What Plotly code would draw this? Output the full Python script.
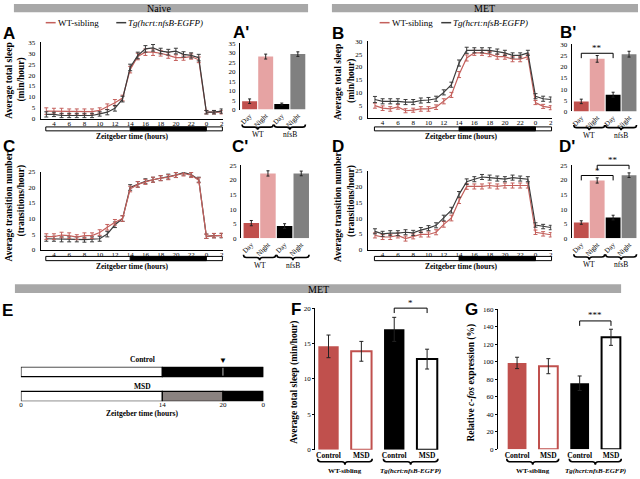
import plotly.graph_objects as go

W, H = 640, 479
SERIF = "Liberation Serif, Times New Roman, serif"
SANS = "Liberation Sans, Arial, sans-serif"

WT_LINE = "#c4605c"
TG_LINE = "#3c3c3c"
WT_DAY = "#c0504d"
WT_NIGHT = "#e6a3a3"
TG_DAY = "#000000"
TG_NIGHT = "#808080"
RED = "#c0504d"
HEADER = "#a8a8a8"
MSD_GRAY = "#8a8280"

# ---------------- data ----------------
hours = list(range(3, 27))
hour_tickvals = [4, 6, 8, 10, 12, 14, 16, 18, 20, 22, 24, 26]
hour_ticktext = ["4", "6", "8", "10", "12", "14", "16", "18", "20", "22", "0", "2"]
lights_off, lights_on = 14, 24

# A: naive total sleep
A_wt = [3.5, 3.5, 3.5, 3.3, 3.3, 3.3, 3.3, 3.8, 5.5, 7.3, 9.5, 22.5, 28.5, 30.5, 30.5, 30.0, 29.0, 28.0, 28.0, 28.5, 27.0, 3.0, 3.0, 3.0]
A_tg = [2.0, 2.0, 1.5, 1.5, 1.5, 1.5, 1.5, 2.2, 3.0, 4.8, 9.0, 23.5, 29.0, 32.0, 32.5, 31.0, 30.5, 31.0, 29.5, 29.0, 28.0, 3.0, 3.0, 3.5]
A_wt_err = [1.5, 1.3, 1.3, 1.2, 1.2, 1.2, 1.2, 1.2, 1.3, 1.5, 1.3, 1.5, 1.5, 1.5, 1.5, 1.3, 1.3, 1.3, 1.2, 1.2, 1.3, 0.8, 0.8, 0.8]
A_tg_err = [1.2, 1.0, 1.0, 1.0, 1.0, 1.0, 1.0, 1.0, 1.2, 1.3, 1.3, 1.5, 1.5, 1.5, 1.5, 1.3, 1.3, 1.3, 1.2, 1.2, 1.5, 0.8, 0.8, 1.0]

# B: MET total sleep
B_wt = [4.8, 3.8, 3.5, 4.3, 2.8, 3.0, 3.5, 3.5, 4.2, 6.5, 9.0, 17.0, 23.5, 25.5, 25.5, 25.0, 24.0, 24.0, 23.0, 23.0, 24.0, 6.0, 4.5, 4.0]
B_tg = [7.2, 6.5, 6.5, 6.5, 6.2, 6.2, 6.8, 7.0, 7.5, 10.0, 13.0, 21.5, 26.5, 26.5, 26.5, 26.5, 26.0, 25.5, 24.5, 24.5, 25.5, 8.5, 7.5, 7.2]
B_wt_err = [1.0, 0.9, 0.9, 0.9, 0.8, 0.8, 0.9, 0.9, 0.9, 1.0, 1.0, 1.2, 1.2, 1.0, 1.0, 1.0, 1.0, 1.0, 1.0, 1.0, 1.0, 0.8, 0.8, 0.8]
B_tg_err = [1.2, 1.0, 1.0, 1.0, 1.0, 1.0, 1.0, 1.0, 1.0, 1.0, 1.0, 1.2, 1.2, 1.0, 1.0, 1.0, 1.0, 1.0, 1.0, 1.0, 1.0, 1.0, 1.0, 1.0]

# C: naive transitions
C_wt = [4.2, 4.2, 4.7, 4.5, 4.0, 4.5, 4.5, 5.5, 7.2, 8.8, 10.0, 19.5, 21.0, 21.8, 22.5, 23.0, 23.3, 24.0, 24.5, 24.0, 22.3, 4.3, 4.5, 4.6]
C_tg = [3.5, 3.5, 3.3, 3.3, 3.3, 3.2, 3.3, 3.5, 5.0, 8.0, 10.0, 20.0, 21.0, 22.0, 22.5, 23.0, 23.5, 24.0, 24.8, 24.2, 22.5, 4.3, 4.5, 4.5]
C_wt_err = [0.9, 0.9, 0.9, 0.9, 0.8, 0.9, 0.9, 0.9, 0.9, 0.9, 0.9, 0.9, 0.9, 0.8, 0.8, 0.8, 0.8, 0.8, 0.8, 0.8, 0.8, 0.7, 0.7, 0.7]
C_tg_err = [0.8, 0.8, 0.8, 0.8, 0.8, 0.8, 0.8, 0.8, 0.9, 0.9, 0.9, 0.9, 0.9, 0.8, 0.8, 0.8, 0.8, 0.8, 0.8, 0.8, 0.8, 0.7, 0.7, 0.7]

# D: MET transitions
D_wt = [4.5, 4.0, 4.0, 4.5, 3.5, 4.2, 4.8, 4.8, 5.5, 8.0, 10.0, 15.5, 20.0, 20.0, 20.0, 20.3, 20.0, 20.3, 20.3, 20.3, 20.3, 5.5, 5.0, 4.7]
D_tg = [5.8, 5.0, 5.2, 5.2, 5.5, 5.3, 6.2, 6.8, 7.7, 10.0, 12.5, 17.5, 21.5, 22.3, 23.0, 22.8, 22.5, 22.3, 22.8, 22.5, 22.3, 7.8, 7.3, 7.0]
D_wt_err = [0.8, 0.8, 0.8, 0.8, 0.8, 0.8, 0.8, 0.8, 0.8, 0.9, 0.9, 0.9, 0.9, 0.8, 0.8, 0.8, 0.8, 0.8, 0.8, 0.8, 0.8, 0.7, 0.7, 0.7]
D_tg_err = [0.8, 0.8, 0.8, 0.8, 0.8, 0.8, 0.8, 0.8, 0.8, 0.9, 0.9, 0.9, 0.9, 0.8, 0.8, 0.8, 0.8, 0.8, 0.8, 0.8, 0.8, 0.7, 0.7, 0.7]

# day/night bar summaries (WT Day, WT Night, nfsB Day, nfsB Night)
bar_cats = ["Day", "Night", "Day", "Night"]
bar_groups = ["WT", "nfsB"]
Ap_vals = [4.4, 28.0, 2.9, 29.3]
Ap_err = [1.2, 1.3, 0.5, 1.2]
Bp_vals = [4.5, 23.5, 7.5, 25.6]
Bp_err = [1.0, 1.5, 1.1, 1.3]
Cp_vals = [5.2, 22.2, 4.2, 22.2]
Cp_err = [0.9, 0.9, 0.8, 0.8]
Dp_vals = [5.4, 19.8, 7.1, 21.6]
Dp_err = [0.6, 0.9, 0.8, 0.8]
bar_colors = [WT_DAY, WT_NIGHT, TG_DAY, TG_NIGHT]

# significance: (left index, right index, label)
Bp_sig = [(0, 2, "**")]
Dp_sig = [(0, 2, "*"), (1, 3, "**")]

# E: sleep deprivation protocol
E_rows = ["Control", "MSD"]
E_seg_row = [1, 1, 0, 0, 0]
E_seg_start = [0, 14, 0, 14, 20]
E_seg_end = [14, 24, 14, 20, 24]
E_seg_color = ["white", "black", "white", MSD_GRAY, "black"]
E_tickvals = [0, 14, 20, 24]
E_ticktext = ["0", "14", "20", "0"]
E_sample_time = 20

# F / G
FG_cats = ["Control", "MSD", "Control", "MSD"]
FG_groups = ["WT-sibling", "<i>Tg(hcrt:nfsB-EGFP)</i>"]
F_vals = [14.6, 13.9, 17.0, 12.8]
F_err = [1.6, 1.4, 1.7, 1.4]
G_vals = [98.5, 94.8, 75.3, 127.8]
G_err = [6.5, 8.6, 8.3, 9.2]
FG_fill = [RED, "white", "black", "white"]
FG_line = [RED, RED, "black", "black"]
FG_lw = [0, 2, 0, 2]
F_sig = [(2, 3, "*")]
G_sig = [(2, 3, "***")]

# ---------------- layout geometry (pixels) ----------------
P = {
    "A":  dict(i=1, xd=(39, 222), yd=(39, 116.7), xr=[2.27, 26.13], yr=[0, 35]),
    "Ap": dict(i=2, xd=(239.3, 305.8), yd=(40, 107.3), xr=[-0.61, 3.5], yr=[0, 35]),
    "B":  dict(i=3, xd=(368, 553), yd=(38, 115.8), xr=[2.05, 26.1], yr=[0, 30]),
    "Bp": dict(i=4, xd=(573.3, 639), yd=(41, 109.3), xr=[-0.6, 3.5], yr=[0, 30]),
    "C":  dict(i=5, xd=(39, 222), yd=(170.8, 249.8), xr=[2.27, 26.13], yr=[0, 25]),
    "Cp": dict(i=6, xd=(240.5, 309.5), yd=(164, 238.3), xr=[-0.62, 3.5], yr=[0, 25]),
    "D":  dict(i=7, xd=(368, 553), yd=(169.5, 249.8), xr=[2.05, 26.1], yr=[0, 25]),
    "Dp": dict(i=8, xd=(573.3, 639), yd=(164, 238.3), xr=[-0.6, 3.5], yr=[0, 25]),
    "E":  dict(i=9, xd=(19, 263), yd=(369, 404), xr=[0, 24], yr=[-0.2, 1.2]),
    "F":  dict(i=10, xd=(315, 441), yd=(309.3, 453.3), xr=[-0.41, 3.4], yr=[0, 20]),
    "G":  dict(i=11, xd=(499, 625.4), yd=(310.3, 452.7), xr=[-0.613, 3.4], yr=[0, 160]),
}


def fx(px):
    return px / W


def fy(py):
    return 1 - py / H


def xpix(p, v):
    d = P[p]
    return d["xd"][0] + (v - d["xr"][0]) / (d["xr"][1] - d["xr"][0]) * (d["xd"][1] - d["xd"][0])


def ypix(p, v):
    d = P[p]
    return d["yd"][1] - (v - d["yr"][0]) / (d["yr"][1] - d["yr"][0]) * (d["yd"][1] - d["yd"][0])


def names(p):
    i = P[p]["i"]
    return ("x" if i == 1 else f"x{i}"), ("y" if i == 1 else f"y{i}")


fig = go.Figure()
layout = dict(width=W, height=H, margin=dict(l=0, r=0, t=0, b=0),
              paper_bgcolor="white", plot_bgcolor="white", showlegend=False)
shapes = []
anns = []


def ann(x, y, text, size=8, family=SERIF, angle=0, xanchor="center", color="black"):
    anns.append(dict(x=fx(x), y=fy(y), xref="paper", yref="paper", text=text, showarrow=False,
                     font=dict(family=family, size=size, color=color), textangle=angle,
                     xanchor=xanchor, yanchor="middle", borderpad=0))


def set_axes(p, xkw, ykw):
    d = P[p]
    xn, yn = names(p)
    xkey = "xaxis" if d["i"] == 1 else f"xaxis{d['i']}"
    ykey = "yaxis" if d["i"] == 1 else f"yaxis{d['i']}"
    base = dict(showgrid=False, zeroline=False, fixedrange=True)
    layout[xkey] = dict(base, domain=[fx(d["xd"][0]), fx(d["xd"][1])], range=d["xr"], anchor=yn, **xkw)
    layout[ykey] = dict(base, domain=[fy(d["yd"][1]), fy(d["yd"][0])], range=d["yr"], anchor=xn, **ykw)


tickf = dict(family=SERIF, size=7, color="black")


def line_panel(p, wt, wt_err, tg, tg_err, top, bar_y, wt_on_top=False):
    xn, yn = names(p)
    tr_wt = go.Scatter(x=hours, y=wt, mode="lines", line=dict(color=WT_LINE, width=1.2),
                       error_y=dict(type="data", array=wt_err, color=WT_LINE, thickness=1, width=2),
                       xaxis=xn, yaxis=yn, hoverinfo="skip")
    tr_tg = go.Scatter(x=hours, y=tg, mode="lines", line=dict(color=TG_LINE, width=1.2),
                       error_y=dict(type="data", array=tg_err, color=TG_LINE, thickness=1, width=2),
                       xaxis=xn, yaxis=yn, hoverinfo="skip")
    if wt_on_top:
        fig.add_trace(tr_tg)
        fig.add_trace(tr_wt)
    else:
        fig.add_trace(tr_wt)
        fig.add_trace(tr_tg)
    set_axes(p,
             dict(showline=True, linecolor="black", linewidth=1, tickvals=hour_tickvals,
                  ticktext=hour_ticktext, ticks="", tickfont=tickf, ticklabelstandoff=-2),
             dict(showline=True, linecolor="black", linewidth=1, tickvals=list(range(0, top + 1, 5)),
                  ticks="", tickfont=tickf, ticklabelstandoff=3))
    # light/dark bar
    x0, x1 = xpix(p, hours[0] - 0.07), xpix(p, hours[-1] + 0.1)
    shapes.append(dict(type="rect", xref="paper", yref="paper", x0=fx(x0), x1=fx(x1),
                       y0=fy(bar_y[1]), y1=fy(bar_y[0]), fillcolor="white",
                       line=dict(color="black", width=1)))
    shapes.append(dict(type="rect", xref="paper", yref="paper", x0=fx(xpix(p, lights_off)),
                       x1=fx(xpix(p, lights_on)), y0=fy(bar_y[1]), y1=fy(bar_y[0]),
                       fillcolor="black", line=dict(color="black", width=1)))
    ann((x0 + x1) / 2 - 2, bar_y[1] + 5.5, "<b>Zeitgeber time (hours)</b>", size=7.5)


def brace(x0, x1, ytop, ybot, width=1.6):
    xm = (x0 + x1) / 2
    ym = ytop + (ybot - ytop) * 0.5
    r = 3
    path = (f"M {fx(x0)},{fy(ytop)} Q {fx(x0)},{fy(ym)} {fx(x0 + r)},{fy(ym)} "
            f"L {fx(xm - r)},{fy(ym)} Q {fx(xm)},{fy(ym)} {fx(xm)},{fy(ybot)} "
            f"Q {fx(xm)},{fy(ym)} {fx(xm + r)},{fy(ym)} L {fx(x1 - r)},{fy(ym)} "
            f"Q {fx(x1)},{fy(ym)} {fx(x1)},{fy(ytop)}")
    shapes.append(dict(type="path", xref="paper", yref="paper", path=path,
                       line=dict(color="black", width=width)))


def bracket(p, i0, i1, ytop_v, drop_px, label, text_dy=-5, size=9):
    x0, x1 = xpix(p, i0), xpix(p, i1)
    yt = ypix(p, ytop_v)
    path = (f"M {fx(x0)},{fy(yt + drop_px)} L {fx(x0)},{fy(yt)} L {fx(x1)},{fy(yt)} "
            f"L {fx(x1)},{fy(yt + drop_px)}")
    shapes.append(dict(type="path", xref="paper", yref="paper", path=path,
                       line=dict(color="black", width=1)))
    ann((x0 + x1) / 2, yt + text_dy, label, size=size)


def bar_panel(p, vals, errs, top, brace_y, sigs=(), sig_levels=()):
    xn, yn = names(p)
    fig.add_trace(go.Bar(x=[0, 1, 2, 3], y=vals, width=0.93,
                         marker=dict(color=bar_colors, line=dict(width=0)),
                         error_y=dict(type="data", array=errs, color="#222222", thickness=1, width=1.5),
                         xaxis=xn, yaxis=yn, hoverinfo="skip"))
    set_axes(p,
             dict(showline=False, tickvals=[0, 1, 2, 3], ticktext=bar_cats, tickangle=-45,
                  ticks="", tickfont=tickf),
             dict(showline=True, linecolor="black", linewidth=1, tickvals=list(range(0, top + 1, 5)),
                  ticks="", tickfont=tickf, ticklabelstandoff=2))
    for g, (a, b) in zip(bar_groups, [(-0.47, 1.47), (1.53, 3.47)]):
        brace(xpix(p, a), xpix(p, b), brace_y, brace_y + 5.5)
        ann(xpix(p, (a + b) / 2), brace_y + 10.5, g, size=7.5)
    for (i0, i1, lab), (lvl, drop) in zip(sigs, sig_levels):
        bracket(p, i0, i1, lvl, drop, lab)


def fg_panel(p, vals, errs, top, step, sigs, sig_levels):
    xn, yn = names(p)
    fig.add_trace(go.Bar(x=[0, 1, 2, 3], y=vals, width=0.62 if p == "F" else 0.6,
                         marker=dict(color=FG_fill, line=dict(color=FG_line, width=FG_lw)),
                         error_y=dict(type="data", array=errs, color="#222222", thickness=1, width=2),
                         xaxis=xn, yaxis=yn, hoverinfo="skip"))
    set_axes(p,
             dict(showline=False, tickvals=[0, 1, 2, 3], ticktext=[f"<b>{c}</b>" for c in FG_cats],
                  ticks="", tickfont=dict(family=SERIF, size=7.5, color="black")),
             dict(showline=True, linecolor="black", linewidth=1, tickvals=list(range(0, top + 1, step)),
                  ticks="outside", ticklen=2, tickcolor="black", tickfont=tickf))
    for g, (a, b) in zip(FG_groups, [(-0.33, 1.33), (1.67, 3.33)]):
        brace(xpix(p, a), xpix(p, b), 462.5, 468.5)
        ann(xpix(p, (a + b) / 2), 474.5, f"<b>{g}</b>", size=7)
    for (i0, i1, lab), (lvl, drop, tdy) in zip(sigs, sig_levels):
        bracket(p, i0, i1, lvl, drop, lab, text_dy=tdy, size=9)


# ---------------- build panels ----------------
line_panel("A", A_wt, A_wt_err, A_tg, A_tg_err, 35, (125, 129))
line_panel("B", B_wt, B_wt_err, B_tg, B_tg_err, 30, (125, 129))
line_panel("C", C_wt, C_wt_err, C_tg, C_tg_err, 25, (256.7, 261), wt_on_top=True)
line_panel("D", D_wt, D_wt_err, D_tg, D_tg_err, 25, (256.7, 261))

bar_panel("Ap", Ap_vals, Ap_err, 35, 122.5)
bar_panel("Bp", Bp_vals, Bp_err, 30, 123, Bp_sig, [(26.0, 5)])
bar_panel("Cp", Cp_vals, Cp_err, 25, 255)
bar_panel("Dp", Dp_vals, Dp_err, 25, 254.5, Dp_sig, [(21.5, 5), (25.0, 4)])

# E protocol bars
xn, yn = names("E")
fig.add_trace(go.Bar(y=E_seg_row, x=[e - s for s, e in zip(E_seg_start, E_seg_end)], base=E_seg_start,
                     orientation="h", width=0.4,
                     marker=dict(color=E_seg_color, line=dict(color="black", width=1.2)),
                     xaxis=xn, yaxis=yn, hoverinfo="skip"))
set_axes("E",
         dict(showline=False, tickvals=E_tickvals, ticktext=E_ticktext, ticks="", tickfont=tickf,
              ticklabelstandoff=-2),
         dict(visible=False))
ctrl_top, ctrl_bot = ypix("E", 1.2), ypix("E", 0.8)
shapes.append(dict(type="line", xref="paper", yref="paper",
                   x0=fx(xpix("E", E_sample_time)), x1=fx(xpix("E", E_sample_time)),
                   y0=fy(ctrl_bot - 1), y1=fy(ctrl_top + 1), line=dict(color="#bbbbbb", width=1)))
ann(xpix("E", E_sample_time), ctrl_top - 6, "▼", size=8, family=SANS)
ann(141, ctrl_top - 7, "<b>" + E_rows[0] + "</b>", size=7.5)
ann(141, ypix("E", 0.2) - 5.5, "<b>" + E_rows[1] + "</b>", size=7.5)
ann(141, 416, "<b>Zeitgeber time (hours)</b>", size=7.5)

fg_panel("F", F_vals, F_err, 20, 5, F_sig, [(20.0, 5, -5.5)])
fg_panel("G", G_vals, G_err, 160, 20, G_sig, [(146.5, 5, -6)])

# ---------------- headers, legends, labels ----------------
for (x0, x1, y0, y1, label, cx) in [(12, 308, 0, 8.5, "Naive", 158),
                                    (332, 640, 0, 8.5, "MET", 486),
                                    (13, 623, 285, 294, "MET", 318)]:
    shapes.append(dict(type="rect", xref="paper", yref="paper", x0=fx(x0), x1=fx(x1),
                       y0=fy(y1), y1=fy(y0), fillcolor=HEADER, line=dict(width=0)))
    ann(cx, (y0 + y1) / 2 + 0.5, label, size=10)

for (lx0, tx0) in [(44, 55), (380, 391)]:
    shapes.append(dict(type="line", xref="paper", yref="paper", x0=fx(lx0), x1=fx(lx0 + 10),
                       y0=fy(19), y1=fy(19), line=dict(color=WT_LINE, width=1.5)))
    ann(tx0, 19, "WT-sibling", size=9, xanchor="left")
for (lx0, tx0) in [(115, 126), (442, 453)]:
    shapes.append(dict(type="line", xref="paper", yref="paper", x0=fx(lx0), x1=fx(lx0 + 10),
                       y0=fy(19), y1=fy(19), line=dict(color=TG_LINE, width=1.5)))
    ann(tx0, 19, "<i>Tg(hcrt:nfsB-EGFP)</i>", size=9, xanchor="left")

for (x, y, t) in [(7, 30, "A"), (240, 29, "A'"), (338, 30, "B"), (570, 29, "B'"),
                  (7, 145, "C"), (239, 145, "C'"), (338, 145, "D"), (569, 145, "D'"),
                  (6, 312, "E"), (296, 311, "F"), (472, 311, "G")]:
    ann(x, y, f"<b>{t}</b>", size=17, family=SANS)

# y axis titles
for (x1, x2, y1, y2, t1, t2) in [(7, 20, 78, 77, "Average total sleep", "(min/hour)"),
                                 (337.5, 351.5, 79, 78, "Average total sleep", "(min/hour)"),
                                 (7, 20, 206, 200, "Average transition number", "(transitions/hour)"),
                                 (337.5, 351.5, 206, 200, "Average transition number", "(transitions/hour)")]:
    ann(x1, y1, f"<b>{t1}</b>", size=9.5, angle=-90)
    ann(x2, y2, f"<b>{t2}</b>", size=9.5, angle=-90)
ann(294, 385, "<b>Average total sleep (min/hour)</b>", size=9.5, angle=-90)
ann(473, 385, "<b>Relative <i>c-fos</i> expression (%)</b>", size=9.5, angle=-90)

layout["shapes"] = shapes
layout["annotations"] = anns
fig.update_layout(**layout)
fig.write_html("out.html",
               config={"displayModeBar": False, "staticPlot": True},
               post_script="document.body.style.margin='0';document.body.style.padding='0';"
                           "document.body.style.overflow='hidden';")
